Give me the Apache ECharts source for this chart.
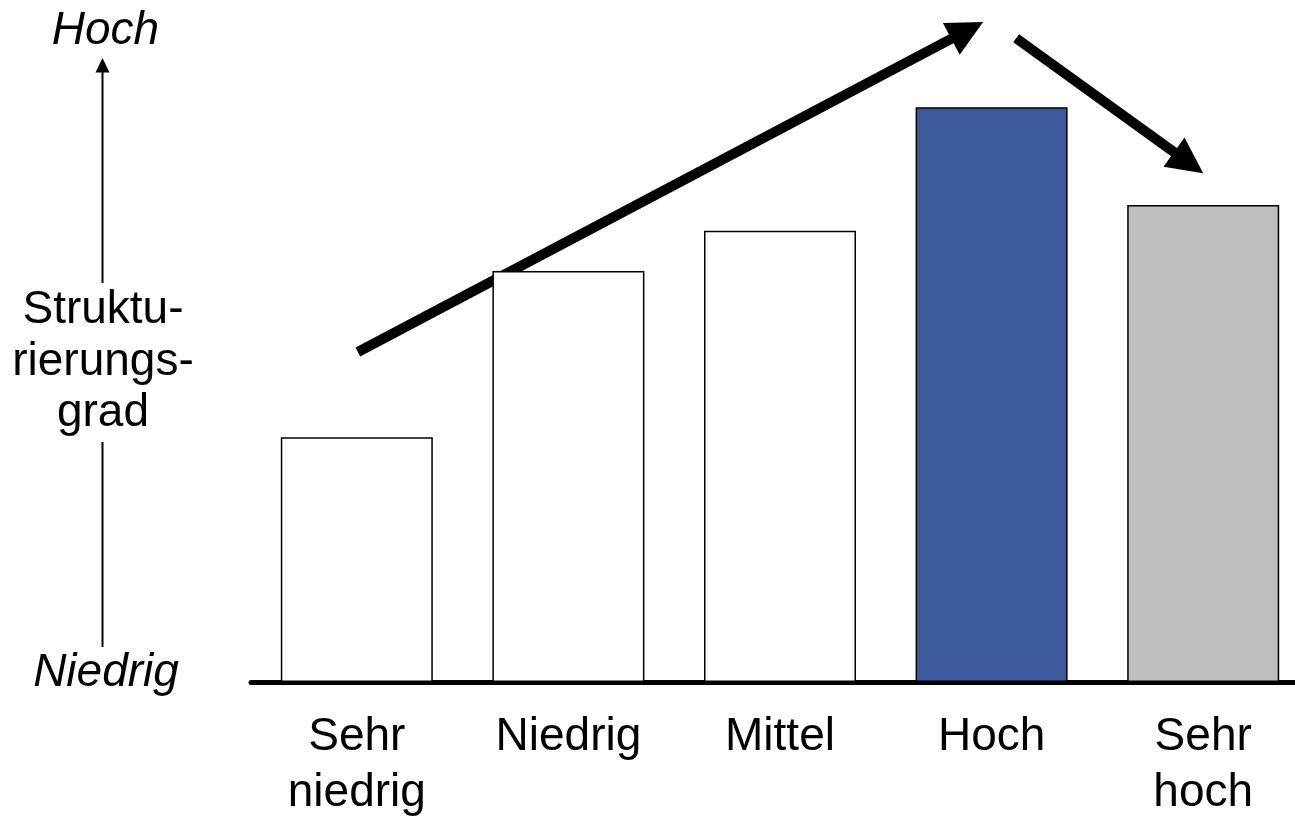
<!DOCTYPE html>
<html>
<head>
<meta charset="utf-8">
<script src="https://cdn.jsdelivr.net/npm/echarts@6/dist/echarts.min.js"></script>
<style>
  html, body { margin: 0; padding: 0; background: #ffffff; }
  #chart { width: 1295px; height: 817px; }
</style>
</head>
<body>
<div id="chart"></div>
<script>
// Categories of the horizontal axis
const categories = ['Sehr\nniedrig', 'Niedrig', 'Mittel', 'Hoch', 'Sehr\nhoch'];
// Degree of structuring per category (arbitrary units, 0 = baseline)
const values = [40.8, 68.5, 75.2, 95.8, 79.5];
const barColors = ['#ffffff', '#ffffff', '#ffffff', '#3d5a9f', '#bebebe'];
// Trend arrows in (category position, level) units: [x1, y1, x2, y2]
const trendArrows = [
  [0.005, 55.0, 2.96, 110.0],
  [3.116, 107.3, 4.0, 84.8]
];
// Labels of the vertical scale
const axisTopLabel = 'Hoch';
const axisBottomLabel = 'Niedrig';
const axisTitle = 'Struktu-\nrierungs-\ngrad';

const FONT = '"Liberation Sans", Arial, Helvetica, sans-serif';
const chart = echarts.init(document.getElementById('chart'), null, { renderer: 'canvas' });

const option = {
  animation: false,
  backgroundColor: '#ffffff',
  // plot area runs a little past the right edge, so it must not be clamped to the canvas
  grid: { left: 251, width: 1058, top: 0, bottom: 135, containLabel: false, outerBoundsMode: 'none' },
  xAxis: [
    {
      type: 'category',
      data: categories,
      axisLine: { lineStyle: { color: '#000000', width: 5 } },
      axisTick: { show: false },
      splitLine: { show: false },
      axisLabel: {
        interval: 0,
        margin: 27,
        fontSize: 46,
        lineHeight: 56,
        color: '#000000',
        fontFamily: FONT
      }
    },
    { type: 'value', min: -0.5, max: 4.5, show: false }
  ],
  yAxis: { type: 'value', min: 0, max: 113.67, show: false },
  series: [
    {
      type: 'bar',
      barWidth: 152,
      data: values.map((v, i) => ({ value: v, itemStyle: { color: barColors[i] } })),
      itemStyle: { borderColor: '#000000', borderWidth: 1.5 }
    },
    {
      type: 'custom',
      xAxisIndex: 1,
      clip: false,
      data: trendArrows,
      renderItem: function (params, api) {
        const p1 = api.coord([api.value(0), api.value(1)]);
        const p2 = api.coord([api.value(2), api.value(3)]);
        const dx = p2[0] - p1[0], dy = p2[1] - p1[1];
        const len = Math.hypot(dx, dy);
        const ux = dx / len, uy = dy / len;
        const head = 36, half = 18;
        const bx = p2[0] - ux * head, by = p2[1] - uy * head;
        return {
          type: 'group',
          children: [
            {
              type: 'line',
              shape: { x1: p1[0], y1: p1[1], x2: bx + ux * 3, y2: by + uy * 3 },
              style: { stroke: '#000000', lineWidth: 10, lineCap: 'butt' }
            },
            {
              type: 'polygon',
              shape: { points: [p2, [bx - uy * half, by + ux * half], [bx + uy * half, by - ux * half]] },
              style: { fill: '#000000' }
            }
          ]
        };
      }
    }
  ],
  graphic: [
    { type: 'line', shape: { x1: 102.5, y1: 70, x2: 102.5, y2: 283 }, style: { stroke: '#000000', lineWidth: 2 } },
    { type: 'line', shape: { x1: 102.5, y1: 442, x2: 102.5, y2: 647 }, style: { stroke: '#000000', lineWidth: 2 } },
    { type: 'polygon', shape: { points: [[102.5, 58], [95.5, 72.5], [109.5, 72.5]] }, style: { fill: '#000000' } },
    {
      type: 'text', x: 105.5, y: 31,
      style: { text: axisTopLabel, fontSize: 46, fontStyle: 'italic', fontFamily: FONT, fill: '#000000', align: 'center', verticalAlign: 'middle' }
    },
    {
      type: 'text', x: 106, y: 673,
      style: { text: axisBottomLabel, fontSize: 46, fontStyle: 'italic', fontFamily: FONT, fill: '#000000', align: 'center', verticalAlign: 'middle' }
    },
    {
      type: 'text', x: 103, y: 362,
      style: { text: axisTitle, fontSize: 46, lineHeight: 51.5, fontFamily: FONT, fill: '#000000', align: 'center', verticalAlign: 'middle' }
    }
  ]
};

chart.setOption(option);
</script>
</body>
</html>
